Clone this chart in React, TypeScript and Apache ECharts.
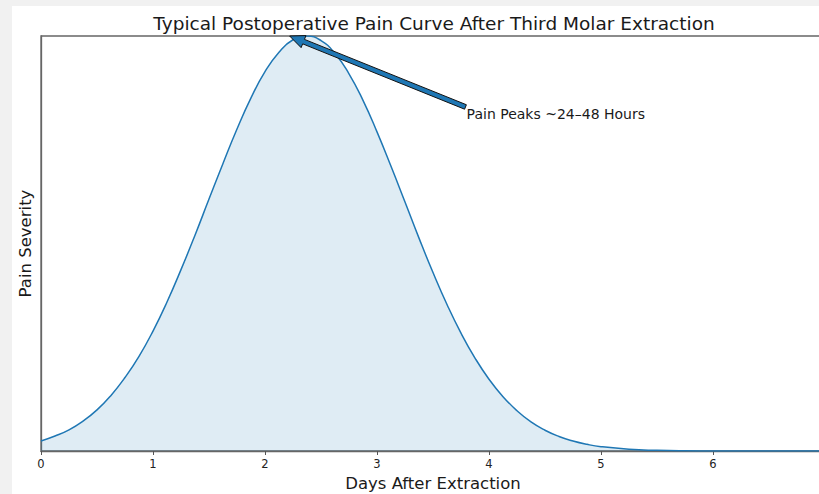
import React, { useEffect, useRef } from "react";
import * as echarts from "echarts";

// Days after extraction (x) and relative pain severity (y)
const days = [
  0, 0.125, 0.25, 0.375, 0.5, 0.625, 0.75, 0.875, 1, 1.125, 1.25, 1.375, 1.5, 1.625, 1.75, 1.875,
  2, 2.125, 2.25, 2.375, 2.5, 2.625, 2.75, 2.875, 3, 3.125, 3.25, 3.375, 3.5, 3.625, 3.75, 3.875,
  4, 4.125, 4.25, 4.375, 4.5, 4.625, 4.75, 4.875, 5, 5.25, 5.5, 5.75, 6, 6.5, 7,
];
const pain = [
  0.024, 0.036, 0.051, 0.072, 0.099, 0.134, 0.177, 0.228, 0.289, 0.359, 0.437, 0.52, 0.607, 0.693, 0.776, 0.851,
  0.914, 0.961, 0.991, 1.0, 0.989, 0.958, 0.909, 0.845, 0.769, 0.686, 0.6, 0.513, 0.43, 0.353, 0.284, 0.224,
  0.173, 0.131, 0.097, 0.07, 0.05, 0.035, 0.024, 0.016, 0.0104, 0.0042, 0.0016, 0.0005, 0.0002, 0, 0,
];
const xTicks = [0, 1, 2, 3, 4, 5, 6, 7];

const titleText = "Typical Postoperative Pain Curve After Third Molar Extraction";
const xLabel = "Days After Extraction";
const yLabel = "Pain Severity";
const annotationText = "Pain Peaks ~24\u201348 Hours";
const arrowTip = [2.22, 1.0];
const arrowTail = [3.79, 0.829];
const textAnchor = [3.8, 0.812];

const FONT = "DejaVu Sans";
const C0 = "#1f77b4";

export default function App() {
  const ref = useRef<HTMLDivElement>(null);
  useEffect(() => {
    if (!ref.current) return;
    const chart = echarts.init(ref.current, undefined, { renderer: "svg", width: 819, height: 494 });
    const seriesData = days.map((d, i) => [d, pain[i]]);
    chart.setOption({
      animation: false,
      backgroundColor: "#ffffff",
      title: {
        text: titleText,
        left: 429,
        top: 9,
        textAlign: "center",
        textStyle: { fontFamily: FONT, fontSize: 18.5, fontWeight: "normal", color: "#1a1a1a" },
      },
      grid: {
        left: 41,
        top: 36,
        width: 784,
        height: 415,
        show: true,
        borderColor: "#666666",
        borderWidth: 1.3,
        backgroundColor: "transparent",
        containLabel: false,
        outerBoundsMode: "none",
      },
      xAxis: {
        type: "value",
        min: xTicks[0],
        max: xTicks[xTicks.length - 1],
        interval: 1,
        name: xLabel,
        nameLocation: "middle",
        nameGap: 23,
        nameTextStyle: { fontFamily: FONT, fontSize: 16.5, color: "#1a1a1a" },
        axisLine: { show: true, lineStyle: { color: "#666666", width: 1.3 } },
        axisTick: { show: true, length: 4, lineStyle: { color: "#555555", width: 1 } },
        axisLabel: { fontFamily: FONT, fontSize: 11.5, color: "#222222", margin: 7, showMaxLabel: false },
        splitLine: { show: false },
      },
      yAxis: {
        type: "value",
        min: 0,
        max: 1,
        name: yLabel,
        nameLocation: "middle",
        nameGap: 7,
        nameTextStyle: { fontFamily: FONT, fontSize: 16.5, color: "#1a1a1a" },
        axisLine: { show: true, lineStyle: { color: "#666666", width: 1.3 } },
        axisTick: { show: false },
        axisLabel: { show: false },
        splitLine: { show: false },
      },
      series: [
        {
          type: "line",
          data: seriesData,
          smooth: 0.5,
          showSymbol: false,
          lineStyle: { color: C0, width: 1.5 },
          areaStyle: { color: "rgba(31,119,180,0.2)" },
          z: 3,
        },
      ],
    });

    const T = chart.convertToPixel({ gridIndex: 0 }, arrowTip) as number[];
    const S = chart.convertToPixel({ gridIndex: 0 }, arrowTail) as number[];
    const P = chart.convertToPixel({ gridIndex: 0 }, textAnchor) as number[];
    const dx = T[0] - S[0];
    const dy = T[1] - S[1];
    const len = Math.sqrt(dx * dx + dy * dy);
    const ux = dx / len, uy = dy / len;
    const nx = -uy, ny = ux;
    const headLen = 15, headHalf = 6.5, shaftHalf = 2.4;
    const B = [T[0] - ux * headLen, T[1] - uy * headLen];
    const pts = [
      [S[0] + nx * shaftHalf, S[1] + ny * shaftHalf],
      [B[0] + nx * shaftHalf, B[1] + ny * shaftHalf],
      [B[0] + nx * headHalf, B[1] + ny * headHalf],
      [T[0], T[1]],
      [B[0] - nx * headHalf, B[1] - ny * headHalf],
      [B[0] - nx * shaftHalf, B[1] - ny * shaftHalf],
      [S[0] - nx * shaftHalf, S[1] - ny * shaftHalf],
    ];

    chart.setOption({
      graphic: [
        {
          type: "rect",
          z: -10,
          silent: true,
          shape: { x: 0, y: 0, width: 819, height: 494 },
          style: { fill: "#f1f1f1" },
        },
        {
          type: "rect",
          z: -9,
          silent: true,
          shape: { x: 12, y: 6, width: 807, height: 488 },
          style: { fill: "#ffffff" },
        },
        {
          type: "polygon",
          z: 100,
          shape: { points: pts },
          style: { fill: C0, stroke: "#111111", lineWidth: 1 },
        },
        {
          type: "text",
          z: 100,
          x: P[0],
          y: P[1],
          style: {
            text: annotationText,
            fontFamily: FONT,
            fontSize: 14,
            fill: "#1a1a1a",
            textAlign: "left",
            textVerticalAlign: "middle",
          },
        },
      ],
    });

    return () => chart.dispose();
  }, []);
  return (
    <div
      ref={ref}
      style={{ position: "fixed", left: 0, top: 0, width: 819, height: 494 }}
    />
  );
}
